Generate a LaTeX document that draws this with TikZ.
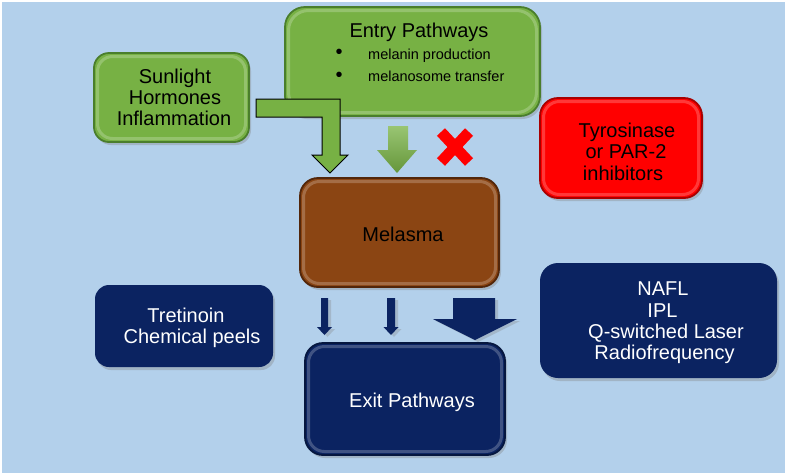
\documentclass[tikz,border=0pt]{standalone}
\usepackage{fontspec}
\setmainfont{Liberation Sans}
\usetikzlibrary{shadows}
\definecolor{bgblue}{HTML}{B3D0EB}
\definecolor{gfill}{HTML}{77B144}
\definecolor{gedge}{HTML}{4A7E2C}
\definecolor{rfill}{HTML}{FF0000}
\definecolor{redge}{HTML}{A80000}
\definecolor{bfill}{HTML}{8B4513}
\definecolor{bedge}{HTML}{52260A}
\definecolor{nfill}{HTML}{0B2361}
\definecolor{nedge}{HTML}{06173F}
\begin{document}
\begin{tikzpicture}[x=1pt,y=-1pt,
  shd/.style={drop shadow={shadow xshift=2pt,shadow yshift=-3pt,opacity=.35}},
  bev/.style={path picture={\draw[white,opacity=.22,line width=3pt,rounded corners=#1]
      ([shift={(3.5pt,-3.5pt)}]path picture bounding box.north west) rectangle
      ([shift={(-3.5pt,3.5pt)}]path picture bounding box.south east);}},
  boxbase/.style={shape=rectangle,inner sep=0pt,line width=1.8pt,shd},
  gbox/.style={boxbase,rounded corners=#1,fill=gfill,draw=gedge,bev=#1},
  rbox/.style={boxbase,rounded corners=18pt,fill=rfill,draw=redge,bev=16pt},
  bbox/.style={boxbase,rounded corners=18pt,fill=bfill,draw=bedge,bev=16pt},
  nbox/.style={boxbase,rounded corners=18pt,fill=nfill,draw=nedge,bev=16pt},
  flatbox/.style={boxbase,rounded corners=#1,fill=nfill,draw=none},
  txt/.style={font=\fontsize{20}{22}\selectfont,anchor=base,inner sep=0pt},
  wtxt/.style={txt,text=white},
  stxt/.style={font=\fontsize{14.5}{17}\selectfont,anchor=base west,inner sep=0pt},
  btxt/.style={font=\fontsize{20}{22}\selectfont,anchor=center,inner sep=0pt},
  larrow/.style={fill=gfill,draw=black,line width=1pt,line join=miter},
  garrow/.style={top color=gfill!75!white,bottom color=gfill!85!black,draw=none},
  narrow/.style={fill=nfill,draw=none,drop shadow={shadow xshift=3pt,shadow yshift=-2pt,opacity=.3}},
  xstroke/.style={draw=rfill,line width=11pt,line cap=butt}
]
\useasboundingbox (0,0) rectangle (787,475);
\fill[bgblue] (2,2) rectangle (785,473);

% boxes
\node[gbox=20pt,minimum width=255pt,minimum height=109pt] (entry) at (412.5,61.5) {};
\node[gbox=15pt,minimum width=155pt,minimum height=89pt] (sun) at (171.5,97.5) {};
\node[rbox,minimum width=162pt,minimum height=100pt] (tyr) at (621,148) {};
\node[bbox,minimum width=199pt,minimum height=109pt] (mel) at (399.5,232.5) {};
\node[flatbox=14pt,minimum width=178pt,minimum height=82pt] (tret) at (184,326) {};
\node[flatbox=18pt,minimum width=237pt,minimum height=115pt] (nafl) at (658.5,320.5) {};
\node[nbox,minimum width=200pt,minimum height=112pt] (exit) at (405,399) {};

% texts
\node[txt] (entryT) at (419,37) {Entry Pathways};
\node[btxt] (bul1) at (339,54) {•};
\node[btxt] (bul2) at (339,77) {•};
\node[stxt] (mp) at (368,59) {melanin production};
\node[stxt] (mt) at (368,81) {melanosome transfer};

\node[txt] (s1) at (175,83) {Sunlight};
\node[txt] (s2) at (175,104) {Hormones};
\node[txt] (s3) at (174,125) {Inflammation};

\node[txt] (t1) at (627,137) {Tyrosinase};
\node[txt] (t2) at (626,158) {or PAR-2};
\node[txt] (t3) at (623,180) {inhibitors};

\node[txt] (melT) at (403,241) {Melasma};

\node[wtxt] (r1) at (186,322) {Tretinoin};
\node[wtxt] (r2) at (192,343) {Chemical peels};

\node[wtxt] (n1) at (663,295) {NAFL};
\node[wtxt] (n2) at (662.5,317) {IPL};
\node[wtxt] (n3) at (666,338) {Q-switched Laser};
\node[wtxt] (n4) at (664.5,359) {Radiofrequency};

\node[wtxt] (exitT) at (412,407) {Exit Pathways};

% L-shaped block arrow from sunlight box into melasma
\draw[larrow] (256,99) -- (340,99) -- (340,155) -- (348,155) -- (330,173)
  -- (312,155) -- (322,155) -- (322,117) -- (256,117) -- cycle;

% green down arrow from entry box
\path[garrow] (388,126) -- (408,126) -- (408,150) -- (417,150) -- (397,173)
  -- (377,150) -- (388,150) -- cycle;

% red cross
\draw[xstroke] (441,132) -- (469,162);
\draw[xstroke] (469,132) -- (441,162);

% navy down arrows
\path[narrow] (321,298) -- (328,298) -- (328,327) -- (332,327) -- (324.5,335)
  -- (317,327) -- (321,327) -- cycle;
\path[narrow] (387,298) -- (395,298) -- (395,327) -- (398.5,327) -- (391,335)
  -- (383.5,327) -- (387,327) -- cycle;
\path[narrow] (453,298) -- (495,298) -- (495,319) -- (517,319) -- (475,340)
  -- (433,319) -- (453,319) -- cycle;
\end{tikzpicture}
\end{document}
